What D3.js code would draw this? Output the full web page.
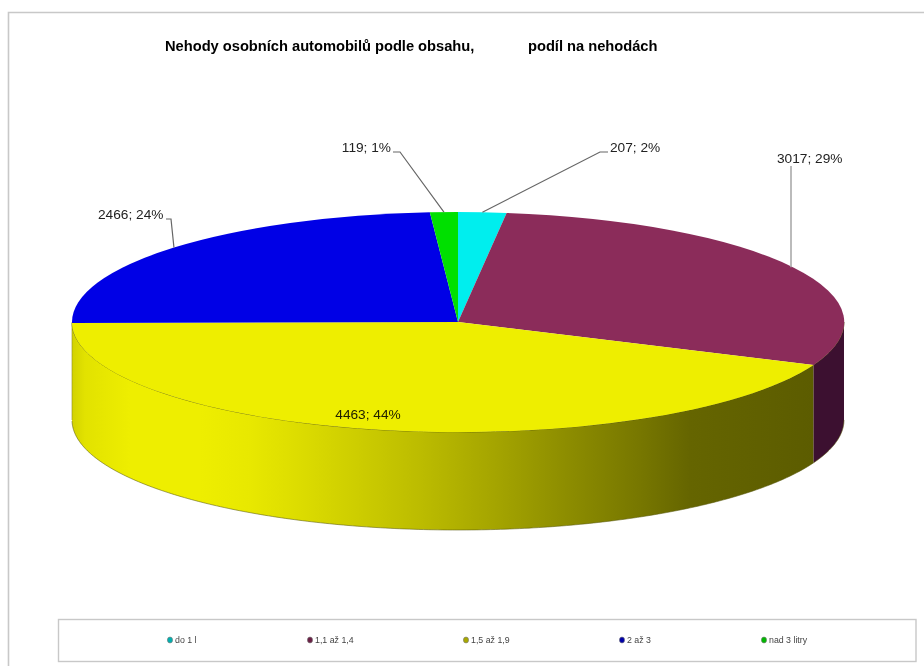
<!DOCTYPE html>
<html><head><meta charset="utf-8">
<script src="https://cdn.jsdelivr.net/npm/d3@7"></script>
<style>html,body{margin:0;padding:0;background:#fff}svg{display:block;filter:blur(.6px)}text{font-family:"Liberation Sans",Arial,sans-serif}</style>
</head><body><svg id="c" width="924" height="666"></svg>
<script>
const categories = ["do 1 l", "1,1 až 1,4", "1,5 až 1,9", "2 až 3", "nad 3 litry"];
const accidents = [207, 3017, 4463, 2466, 119];
const shares = [2, 29, 44, 24, 1];
const topColors = ["#00eeee", "#8b2c5a", "#eeee00", "#0000e6", "#00e000"];
const legendColors = ["#00b0b0", "#6a1f45", "#a8a800", "#0000a8", "#00b800"];
const titleParts = ["Nehody osobních automobilů podle obsahu,", "podíl na nehodách"];

const cx = 458, cy = 322, rx = 386, ry = 110, depth = 98;
const svg = d3.select("#c");
const pie = d3.pie().sort(null).startAngle(0).endAngle(2 * Math.PI);
const arcs = pie(accidents);
const px = a => cx + rx * Math.sin(a), py = a => cy - ry * Math.cos(a);

// frame
svg.append("path").attr("d", "M8.5 666V12.5H924").attr("fill", "none").attr("stroke", "#c8c8c8").attr("stroke-width", 1.6);

// title
const titleX = [165, 528];
titleParts.forEach((t, i) => svg.append("text").attr("x", titleX[i]).attr("y", 51).attr("font-size", 14.7).attr("font-weight", "bold").attr("letter-spacing", -.02).attr("fill", "#000").text(t));

// side gradient
const defs = svg.append("defs");
const grad = defs.append("linearGradient").attr("id", "yw").attr("gradientUnits", "userSpaceOnUse")
  .attr("x1", 72).attr("x2", 814).attr("y1", 0).attr("y2", 0);
[[72,"#d2d200"],[85,"#e2e200"],[130,"#eeee00"],[200,"#eeee00"],[250,"#e8e800"],[300,"#dcdc00"],[350,"#cfcf00"],[420,"#bcbc00"],[500,"#a3a300"],[560,"#8f8f00"],[640,"#777700"],[690,"#656500"],[814,"#5c5c00"]]
 .forEach(([x, c]) => grad.append("stop").attr("offset", (x - 72) / 742).attr("stop-color", c));

// walls
const wallFill = ["none", "#3c1030", "url(#yw)", "none", "none"];
const lo = Math.PI / 2, hi = 3 * Math.PI / 2;
arcs.forEach((d, i) => {
  const a0 = Math.max(d.startAngle, lo), a1 = Math.min(d.endAngle, hi);
  if (a1 <= a0 || wallFill[i] === "none") return;
  const n = Math.ceil((a1 - a0) * 80);
  const as = d3.range(n + 1).map(k => a0 + (a1 - a0) * k / n);
  const area = d3.area().x(px).y0(py).y1(a => py(a) + depth);
  svg.append("path").attr("d", area(as)).attr("fill", wallFill[i]);
  svg.append("path").attr("d", d3.line().x(px).y(a => py(a) + depth)(as)).attr("fill", "none").attr("stroke", "#5a5a10").attr("stroke-opacity", .7).attr("stroke-width", .8);
  svg.append("path").attr("d", d3.line().x(px).y(py)(as)).attr("fill", "none").attr("stroke", "#55550a").attr("stroke-opacity", .75).attr("stroke-width", 1);
});
svg.append("line").attr("x1", cx - rx).attr("x2", cx - rx).attr("y1", cy).attr("y2", cy + depth).attr("stroke", "#8a8a20").attr("stroke-width", .6);

// top faces
const arc = d3.arc().innerRadius(0).outerRadius(1);
svg.append("g").attr("transform", `translate(${cx},${cy}) scale(${rx},${ry})`)
  .selectAll("path").data(arcs).join("path").attr("d", arc).attr("fill", (d, i) => topColors[i]);

// data labels
const fmt = i => `${accidents[i]}; ${shares[i]}%`;
const labelLayout = [
  {x: 610, y: 152, anchor: "start", route: [[608, 152], [600, 152]], stroke: "#666", w: 1.2},
  {x: 777, y: 163, anchor: "start", route: [[791, 166]], stroke: "#aaa", w: 1.6},
  {x: 368, y: 419, anchor: "middle", route: null},
  {x: 98, y: 219, anchor: "start", route: [[166, 219], [171, 219]], stroke: "#666", w: 1.2},
  {x: 391, y: 152, anchor: "end", route: [[393, 152], [400, 152]], stroke: "#666", w: 1.2}
];
arcs.forEach((d, i) => {
  const L = labelLayout[i], m = (d.startAngle + d.endAngle) / 2;
  if (L.route) {
    const pts = [...L.route, [i === 1 ? 791 : px(m), py(m)]];
    svg.append("path").attr("d", d3.line()(pts)).attr("fill", "none").attr("stroke", L.stroke).attr("stroke-width", L.w);
  }
  svg.append("text").attr("x", L.x).attr("y", L.y).attr("text-anchor", L.anchor).attr("font-size", 13.7).attr("fill", i === 2 ? "#222200" : "#222").text(fmt(i));
});

// legend
svg.append("rect").attr("x", 58.5).attr("y", 619.5).attr("width", 857.5).attr("height", 42).attr("fill", "#fff").attr("stroke", "#c8c8c8").attr("stroke-width", 1.4);
const legendPos = [170, 310, 466, 622, 764];
categories.forEach((c, i) => {
  svg.append("ellipse").attr("cx", legendPos[i]).attr("cy", 640).attr("rx", 2.6).attr("ry", 3).attr("fill", legendColors[i]).attr("stroke", "#777").attr("stroke-width", .6);
  svg.append("text").attr("x", legendPos[i] + 5).attr("y", 643).attr("font-size", 8.8).attr("fill", "#444").text(c);
});
</script></body></html>
